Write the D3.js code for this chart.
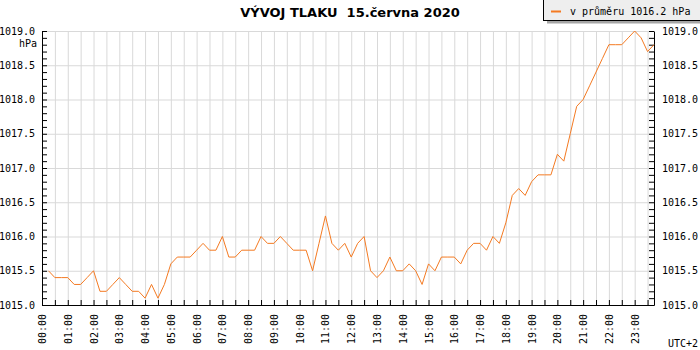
<!DOCTYPE html>
<html>
<head>
<meta charset="utf-8">
<script src="https://cdn.jsdelivr.net/npm/d3@7"></script>
<style>
body { margin: 0; background: #fff; }
svg { display: block; background: #fff; }
text { font-family: 'DejaVu Sans Mono', monospace; font-size: 10px; fill: #000; }
.title { font-family: 'DejaVu Sans', sans-serif; font-weight: bold; font-size: 13px; white-space: pre; }
.grid line { stroke: #d9d9d9; }
.grid path { display: none; }
.axis path, .axis line { stroke: #000; }
</style>
</head>
<body>
<svg width="700" height="350"></svg>
<script>
// chart texts
const titleText = 'VÝVOJ TLAKU  15.června 2020';
const legendText = 'v průměru 1016.2 hPa';
const unitText = 'hPa';
const zoneText = 'UTC+2';

// time axis: one reading every 15 minutes, 00:15 .. 23:45
const day = '2020-06-15';
const axisStart = '00:00';
const axisEnd = '23:45';
const firstReading = '00:15';
const stepMinutes = 15;

// pressure in hPa
const pressure = [
    1015.5, 1015.4, 1015.4, 1015.4, 1015.3, 1015.3, 1015.4, 1015.5,   // 00:15 - 02:00
    1015.2, 1015.2, 1015.3, 1015.4, 1015.3, 1015.2, 1015.2, 1015.1,   // 02:15 - 04:00
    1015.3, 1015.1, 1015.3, 1015.6, 1015.7, 1015.7, 1015.7, 1015.8,   // 04:15 - 06:00
    1015.9, 1015.8, 1015.8, 1016.0, 1015.7, 1015.7, 1015.8, 1015.8,   // 06:15 - 08:00
    1015.8, 1016.0, 1015.9, 1015.9, 1016.0, 1015.9, 1015.8, 1015.8,   // 08:15 - 10:00
    1015.8, 1015.5, 1015.9, 1016.3, 1015.9, 1015.8, 1015.9, 1015.7,   // 10:15 - 12:00
    1015.9, 1016.0, 1015.5, 1015.4, 1015.5, 1015.7, 1015.5, 1015.5,   // 12:15 - 14:00
    1015.6, 1015.5, 1015.3, 1015.6, 1015.5, 1015.7, 1015.7, 1015.7,   // 14:15 - 16:00
    1015.6, 1015.8, 1015.9, 1015.9, 1015.8, 1016.0, 1015.9, 1016.2,   // 16:15 - 18:00
    1016.6, 1016.7, 1016.6, 1016.8, 1016.9, 1016.9, 1016.9, 1017.2,   // 18:15 - 20:00
    1017.1, 1017.5, 1017.9, 1018.0, 1018.2, 1018.4, 1018.6, 1018.8,   // 20:15 - 22:00
    1018.8, 1018.8, 1018.9, 1019.0, 1018.9, 1018.7, 1018.8            // 22:15 - 23:45
];

// tick labels
const yTickLabels = ['1015.0', '1015.5', '1016.0', '1016.5', '1017.0', '1017.5', '1018.0', '1018.5', '1019.0'];
const xTickLabels = ['00:00', '01:00', '02:00', '03:00', '04:00', '05:00', '06:00', '07:00',
    '08:00', '09:00', '10:00', '11:00', '12:00', '13:00', '14:00', '15:00',
    '16:00', '17:00', '18:00', '19:00', '20:00', '21:00', '22:00', '23:00'];

const svg = d3.select('svg');
const width = +svg.attr('width');
const height = +svg.attr('height');
const margin = { top: 31, right: 46, bottom: 45, left: 42 };
const innerWidth = width - margin.left - margin.right;
const innerHeight = height - margin.top - margin.bottom;

const parseTime = d3.timeParse('%Y-%m-%d %H:%M');
const at = hm => parseTime(`${day} ${hm}`);
const start = at(firstReading);
const data = pressure.map((p, i) => ({ time: d3.timeMinute.offset(start, i * stepMinutes), p }));

const xScale = d3.scaleTime()
    .domain([at(axisStart), at(axisEnd)])
    .range([0, innerWidth]);

const yMajor = yTickLabels.map(Number);
const yScale = d3.scaleLinear()
    .domain([yMajor[0], yMajor[yMajor.length - 1]])
    .range([innerHeight, 0]);

const g = svg.append('g')
    .attr('transform', `translate(${margin.left},${margin.top})`);

// grid
const halfHours = d3.timeMinute.every(30).range(at('00:30'), at(axisEnd));
g.append('g').attr('class', 'grid')
    .attr('transform', `translate(0,${innerHeight})`)
    .call(d3.axisBottom(xScale).tickValues(halfHours).tickSize(-innerHeight).tickFormat(''));
g.append('g').attr('class', 'grid')
    .call(d3.axisLeft(yScale).tickValues(yMajor.slice(1)).tickSize(-innerWidth).tickFormat(''));

// minor ticks every 0.1 hPa, labels on the half hPa
const yTicks = yScale.ticks(40);
const yFormat = v => {
    const s = v.toFixed(1);
    return yTickLabels.includes(s) ? s : '';
};

g.append('g').attr('class', 'axis')
    .call(d3.axisLeft(yScale).tickValues(yTicks).tickFormat(yFormat)
        .tickSizeInner(-5).tickSizeOuter(0).tickPadding(7));

g.append('g').attr('class', 'axis')
    .attr('transform', `translate(${innerWidth},0)`)
    .call(d3.axisRight(yScale).tickValues(yTicks).tickFormat(yFormat)
        .tickSizeInner(-5).tickSizeOuter(0).tickPadding(8));

const hourFormat = d3.timeFormat('%H:%M');
const xAxisG = g.append('g').attr('class', 'axis')
    .attr('transform', `translate(0,${innerHeight})`)
    .call(d3.axisBottom(xScale).tickValues(d3.timeMinute.every(30).range(at('00:00'), at(axisEnd)))
        .tickFormat(d => {
            const s = hourFormat(d);
            return xTickLabels.includes(s) ? s : '';
        })
        .tickSizeInner(-5).tickSizeOuter(0));

xAxisG.selectAll('.tick text')
    .attr('transform', 'rotate(-90)')
    .attr('text-anchor', 'end')
    .attr('x', -9)
    .attr('y', 0)
    .attr('dy', '0.35em');

// pressure line
g.append('path')
    .datum(data)
    .attr('fill', 'none')
    .attr('stroke', '#f47a22')
    .attr('stroke-width', 1)
    .attr('d', d3.line().x(d => xScale(d.time)).y(d => yScale(d.p)));

// unit and zone labels
svg.append('text')
    .attr('x', 37)
    .attr('y', 46.5)
    .attr('text-anchor', 'end')
    .text(unitText);

svg.append('text')
    .attr('x', 668)
    .attr('y', 347)
    .text(zoneText);

// title
svg.append('text')
    .attr('class', 'title')
    .attr('x', 350)
    .attr('y', 17)
    .attr('text-anchor', 'middle')
    .text(titleText);

// legend box
const legend = svg.append('g');
legend.append('rect')
    .attr('x', 547).attr('y', 3)
    .attr('width', 160).attr('height', 20.5)
    .attr('fill', '#a6a6a6');
legend.append('rect')
    .attr('x', 543.5).attr('y', -1.5)
    .attr('width', 160).attr('height', 22)
    .attr('fill', '#eeeeee')
    .attr('stroke', '#000');
legend.append('line')
    .attr('x1', 551).attr('x2', 561)
    .attr('y1', 11.5).attr('y2', 11.5)
    .attr('stroke', '#f47a22')
    .attr('stroke-width', 2);
legend.append('text')
    .attr('x', 570)
    .attr('y', 15)
    .text(legendText);
</script>
</body>
</html>
